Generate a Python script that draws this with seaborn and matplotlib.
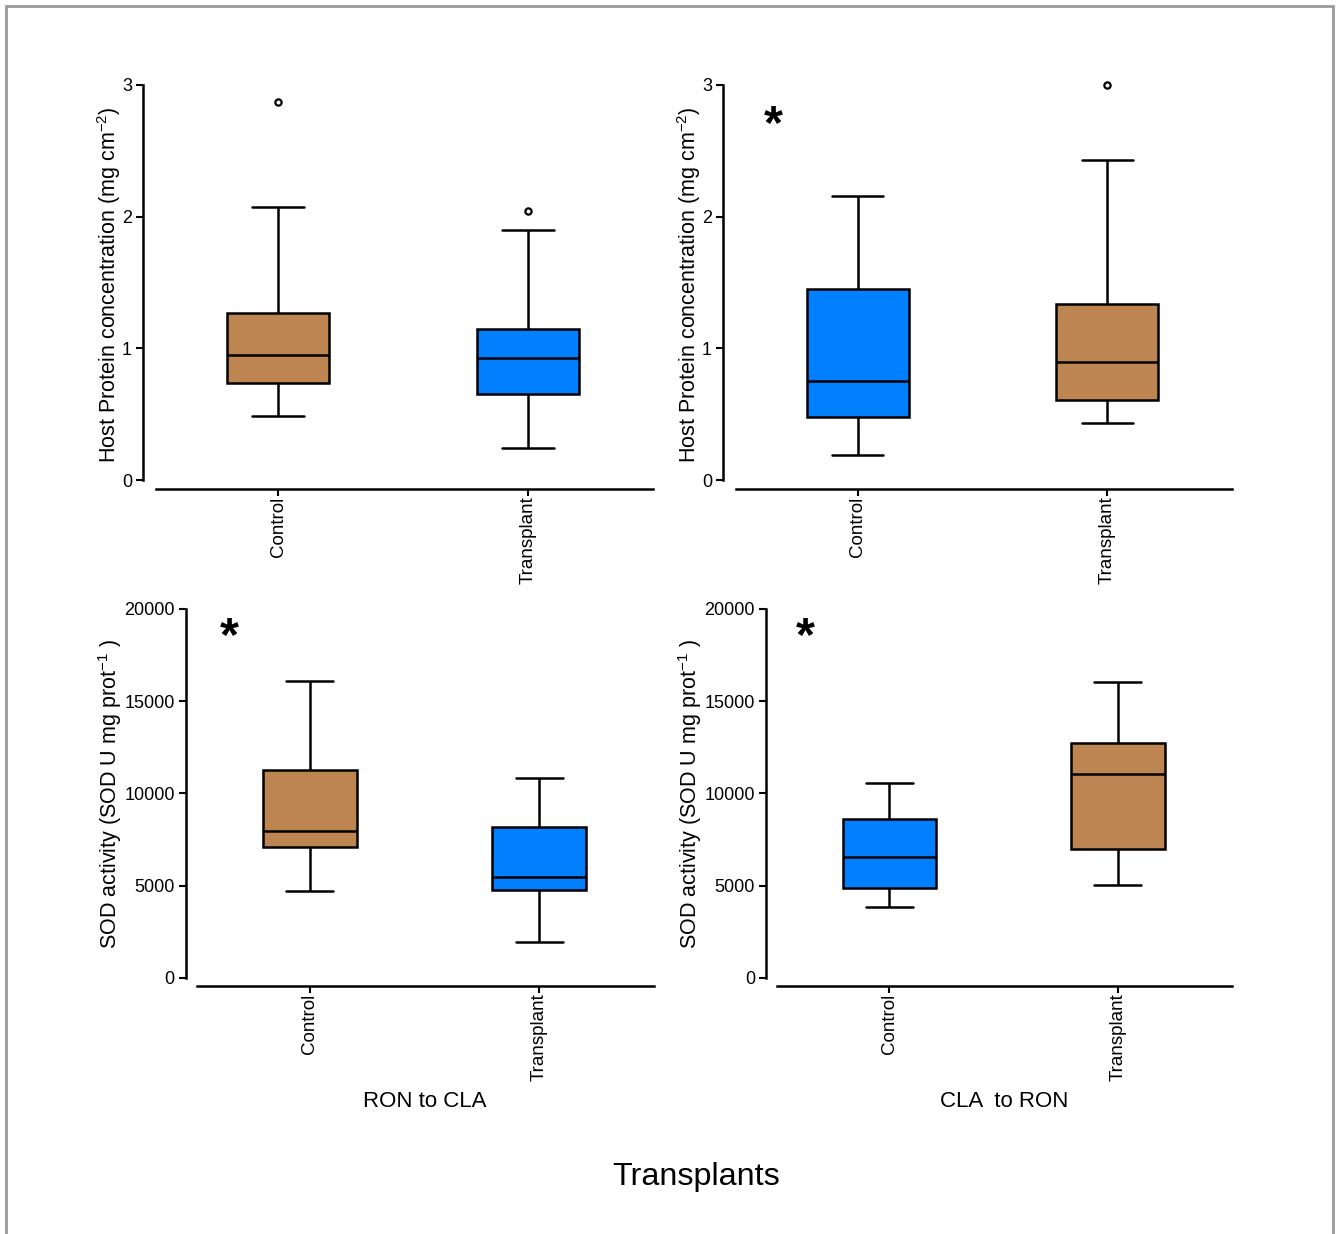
import seaborn as sns
import matplotlib.pyplot as plt
import pandas as pd
import numpy as np
from matplotlib.lines import Line2D

groups = ['Control', 'Transplant']
brown = '#BC8552'
blue = '#0080FF'

# five-number summaries: min, q1, median, q3, max
prot_ron_ctrl = [0.49, 0.74, 0.95, 1.27, 2.07]
prot_ron_tr = [0.24, 0.65, 0.93, 1.15, 1.90]
prot_ron_out_x = ['Control', 'Transplant']
prot_ron_out_y = [2.87, 2.04]

prot_cla_ctrl = [0.19, 0.48, 0.75, 1.45, 2.16]
prot_cla_tr = [0.43, 0.61, 0.90, 1.34, 2.43]
prot_cla_out_x = ['Transplant']
prot_cla_out_y = [3.0]

sod_ron_ctrl = [4715, 7100, 7970, 11270, 16100]
sod_ron_tr = [1950, 4770, 5470, 8180, 10840]

sod_cla_ctrl = [3850, 4880, 6560, 8620, 10570]
sod_cla_tr = [5040, 7000, 11060, 12740, 16040]

prot_ticks = [0, 1, 2, 3]
sod_ticks = [0, 5000, 10000, 15000, 20000]

sns.set_style('ticks')
plt.rcParams['font.family'] = ['Liberation Sans', 'DejaVu Sans']
plt.rcParams['mathtext.fontset'] = 'custom'
plt.rcParams['mathtext.rm'] = 'Liberation Sans'
plt.rcParams['mathtext.it'] = 'Liberation Sans:italic'
for k in ['text.color', 'axes.labelcolor', 'xtick.color', 'ytick.color', 'axes.edgecolor']:
    plt.rcParams[k] = 'black'

fig = plt.figure(figsize=(13.38, 12.34), dpi=100)
ax1 = fig.add_axes([0.1069, 0.6037, 0.3812, 0.3381])
ax2 = fig.add_axes([0.5404, 0.6037, 0.3804, 0.3381])
ax3 = fig.add_axes([0.1390, 0.2010, 0.3498, 0.3130])
ax4 = fig.add_axes([0.5725, 0.2010, 0.3483, 0.3130])


def draw_panel(ax, ctrl, tr, colors, ticks, ylim, ylabel, labx, laby, out_x=None, out_y=None):
    df = pd.DataFrame({'group': ['Control'] * len(ctrl) + ['Transplant'] * len(tr),
                       'value': ctrl + tr})
    sns.boxplot(data=df, x='group', y='value', hue='group', order=groups, hue_order=groups,
                palette=dict(zip(groups, colors)), width=0.41, whis=(0, 100), saturation=1,
                linewidth=1.8, linecolor='black', showfliers=False, legend=False, ax=ax)
    if out_x:
        odf = pd.DataFrame({'group': out_x, 'value': out_y})
        sns.stripplot(data=odf, x='group', y='value', order=groups, jitter=False,
                      color='white', edgecolor='black', linewidth=1.6, size=4.5, ax=ax)
    ax.set_xlim(-0.54, 1.5)
    ax.set_ylim(*ylim)
    ax.set_yticks(ticks)
    ax.set_xlabel('')
    ax.set_ylabel(ylabel, fontsize=15.5)
    ax.yaxis.set_label_coords(labx, laby)
    sns.despine(ax=ax)
    ax.spines['left'].set_bounds(ticks[0], ticks[-1])
    ax.spines['bottom'].set_bounds(-0.49, 1.5)
    for s in ['left', 'bottom']:
        ax.spines[s].set_linewidth(1.8)
    ax.tick_params(axis='both', width=1.5, length=5)
    ax.tick_params(axis='y', labelsize=13, pad=3)
    ax.tick_params(axis='x', labelsize=13.5, pad=0.5)
    plt.setp(ax.get_xticklabels(), rotation=90)


prot_label = 'Host Protein concentration (mg cm$^{-2}$)'
sod_label = 'SOD activity (SOD U mg prot$^{-1}$ )'

draw_panel(ax1, prot_ron_ctrl, prot_ron_tr, [brown, blue], prot_ticks, (-0.068, 3.1),
           prot_label, -0.039, 0.49, prot_ron_out_x, prot_ron_out_y)
draw_panel(ax2, prot_cla_ctrl, prot_cla_tr, [blue, brown], prot_ticks, (-0.068, 3.1),
           prot_label, -0.039, 0.49, prot_cla_out_x, prot_cla_out_y)
draw_panel(ax3, sod_ron_ctrl, sod_ron_tr, [brown, blue], sod_ticks, (-434, 20500),
           sod_label, -0.132, 0.497)
draw_panel(ax4, sod_cla_ctrl, sod_cla_tr, [blue, brown], sod_ticks, (-434, 20500),
           sod_label, -0.133, 0.497)

ax3.set_xlabel('RON to CLA', fontsize=16)
ax4.set_xlabel('CLA  to RON', fontsize=16)
ax3.xaxis.set_label_coords(0.5096, -0.272)
ax4.xaxis.set_label_coords(0.511, -0.272)

# significance marks
ax2.text(-0.34, 2.69, '*', fontsize=35, fontweight='bold', ha='center', va='center')
ax3.text(-0.35, 18430, '*', fontsize=35, fontweight='bold', ha='center', va='center')
ax4.text(-0.37, 18430, '*', fontsize=35, fontweight='bold', ha='center', va='center')

fig.text(0.5205, 0.046, 'Transplants', fontsize=23.3, ha='center', va='center')

# grey frame round the figure
for xs, ys in [([0.0045, 0.0045], [0.0, 0.9955]), ([0.0045, 0.9965], [0.9955, 0.9955]),
               ([0.9965, 0.9965], [0.0, 0.9955])]:
    fig.add_artist(Line2D(xs, ys, color='#999999', linewidth=2, transform=fig.transFigure))

fig.savefig('out.png', dpi=100)
